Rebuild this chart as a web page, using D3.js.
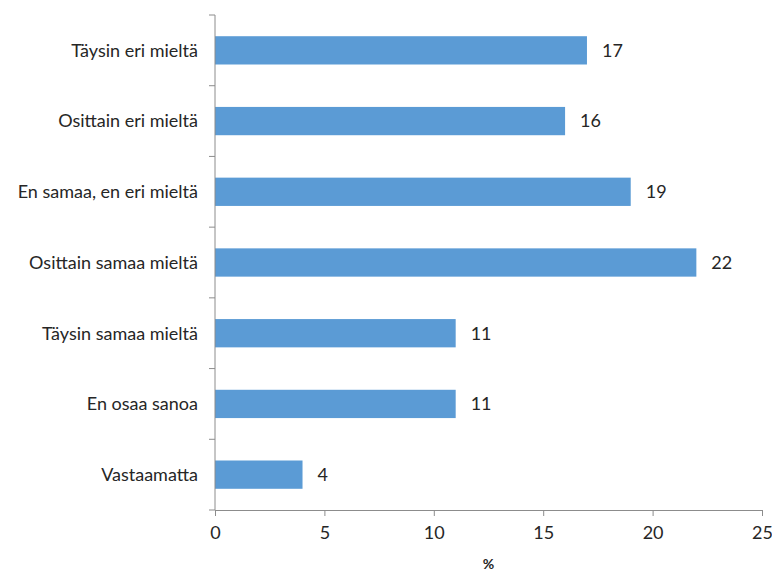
<!DOCTYPE html>
<html>
<head>
<meta charset="utf-8">
<script src="https://cdn.jsdelivr.net/npm/d3@7"></script>
<style>
  html, body { margin: 0; padding: 0; background: #fff; }
  svg { display: block; }
  text { font-family: Lato, "Open Sans", sans-serif; fill: #262626; }
</style>
</head>
<body>
<svg id="chart" width="772" height="572"></svg>
<script>
// Survey answers (%)
const categories = [
  "Täysin eri mieltä",
  "Osittain eri mieltä",
  "En samaa, en eri mieltä",
  "Osittain samaa mieltä",
  "Täysin samaa mieltä",
  "En osaa sanoa",
  "Vastaamatta"
];
const values = [17, 16, 19, 22, 11, 11, 4];
const xTicks = [0, 5, 10, 15, 20, 25];
const xTitle = "%";

const svg = d3.select("#chart");
const margin = { left: 215, right: 10, top: 15, bottom: 62 };
const W = 772, H = 572;
const fontSize = "18px";

const x = d3.scaleLinear().domain([0, 25]).range([margin.left, 762]);
const y = d3.scaleBand()
  .domain(categories)
  .range([margin.top, H - margin.bottom])
  .paddingInner(0.6)
  .paddingOuter(0.3);

const axisColor = "#8c8c8c";

// bars
svg.append("g").selectAll("rect")
  .data(categories)
  .join("rect")
  .attr("x", x(0))
  .attr("y", d => y(d))
  .attr("width", (d, i) => x(values[i]) - x(0))
  .attr("height", y.bandwidth())
  .attr("fill", "#5b9bd5");

// value labels
svg.append("g").selectAll("text")
  .data(categories)
  .join("text")
  .attr("x", (d, i) => x(values[i]) + 15)
  .attr("y", d => y(d) + y.bandwidth() / 2)
  .attr("dy", "0.35em")
  .style("font-size", fontSize)
  .text((d, i) => d3.format(".0f")(values[i]));

// category axis: boundary ticks between bands
const yAxis = svg.append("g");
yAxis.append("line")
  .attr("x1", x(0)).attr("x2", x(0))
  .attr("y1", margin.top).attr("y2", H - margin.bottom)
  .attr("stroke", axisColor);
const bounds = d3.range(categories.length + 1).map(i => margin.top + i * (H - margin.bottom - margin.top) / categories.length);
yAxis.selectAll("line.tick")
  .data(bounds)
  .join("line")
  .attr("class", "tick")
  .attr("x1", x(0) - 6).attr("x2", x(0))
  .attr("y1", d => d).attr("y2", d => d)
  .attr("stroke", axisColor);
yAxis.selectAll("text")
  .data(categories)
  .join("text")
  .attr("x", x(0) - 17)
  .attr("y", d => y(d) + y.bandwidth() / 2)
  .attr("dy", "0.35em")
  .attr("text-anchor", "end")
  .style("font-size", fontSize)
  .text(d => d);

// value axis
const xAxis = svg.append("g")
  .attr("transform", `translate(0,${H - margin.bottom})`)
  .call(d3.axisBottom(x).tickValues(xTicks).tickSize(6).tickPadding(10).tickFormat(d3.format("d")));
xAxis.select(".domain").attr("stroke", axisColor);
xAxis.selectAll(".tick line").attr("stroke", axisColor);
xAxis.selectAll(".tick text")
  .style("font-size", fontSize)
  .style("font-family", "Lato, 'Open Sans', sans-serif")
  .attr("fill", "#262626");

svg.append("text")
  .attr("x", (x(0) + x(25)) / 2)
  .attr("y", 569)
  .attr("text-anchor", "middle")
  .style("font-size", "14px")
  .style("font-weight", "bold")
  .text(xTitle);
</script>
</body>
</html>
